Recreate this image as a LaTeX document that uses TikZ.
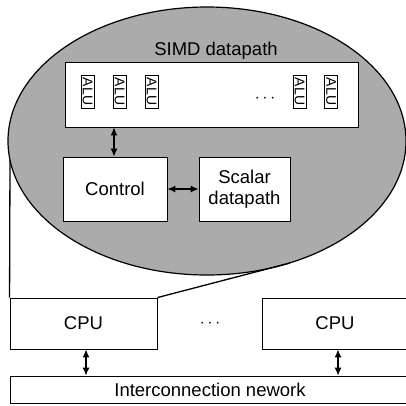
\documentclass[tikz,border=0pt]{standalone}
\usepackage{fontspec}
\setmainfont{Liberation Sans}
\usetikzlibrary{arrows.meta,shapes.geometric}
\begin{document}
\begin{tikzpicture}[x=1pt,y=-1pt,
  box/.style={draw=black,line width=0.9pt,fill=white,inner sep=0pt,align=center,
    font=\fontsize{18.5}{21}\selectfont},
  alubox/.style={draw=black,line width=0.8pt,fill=white,inner sep=0pt,
    minimum width=13pt,minimum height=33pt},
  alutext/.style={rotate=-90,font=\fontsize{14}{15}\selectfont},
  dbl/.style={{Latex[length=8pt,width=7pt]}-{Latex[length=8pt,width=7pt]},line width=1.1pt},
  callout/.style={line width=1.3pt},
  shade/.style={fill=black!33,draw=black,line width=1.2pt}]
\useasboundingbox (0,0) rectangle (406,405);
% enlarged processor
\node[shade,ellipse,inner sep=0pt,minimum width=398pt,minimum height=268pt] (proc) at (207,141) {};
\coordinate (pl) at (10,160);
\coordinate (pr) at (290,263);
% SIMD datapath
\node[font=\fontsize{18.5}{21}\selectfont] (simdlbl) at (216,51) {SIMD datapath};
\node[box,minimum width=293pt,minimum height=65pt] (simd) at (211.5,94.5) {};
\foreach \i/\x in {1/87.5,2/119.5,3/151.5,4/299.5,5/331} {
  \node[alubox] (alu\i) at (\x,91.5) {};
  \node[alutext] at (alu\i) {ALU};
}
\node[font=\fontsize{18.5}{21}\selectfont] (dotsA) at (265,99) {$\cdots$};
% control and scalar
\node[box,minimum width=104pt,minimum height=64pt] (ctrl) at (115,189) {Control};
\node[box,minimum width=91pt,minimum height=64pt] (scal) at (244.5,189) {Scalar\\datapath};
\draw[dbl] (ctrl.north -| 114,0) -- (simd.south -| 114,0);
\draw[dbl] (ctrl.east) -- (scal.west);
% CPUs
\node[box,minimum width=147pt,minimum height=51pt] (cpu1) at (83.5,323.5) {CPU};
\node[box,minimum width=148pt,minimum height=51pt] (cpu2) at (336,323.5) {\hspace*{-2pt}CPU};
\node[font=\fontsize{18.5}{21}\selectfont] (dotsB) at (210,324) {$\cdots$};
% interconnection
\node[box,minimum width=400pt,minimum height=27pt] (net) at (210,389.5) {Interconnection nework};
\draw[dbl] (cpu1.south -| 86,0) -- (net.north -| 86,0);
\draw[dbl] (cpu2.south -| 338,0) -- (net.north -| 338,0);
% callout lines
\draw[callout] (pl) -- (cpu1.north west);
\draw[callout] (pr) -- (cpu1.north east);
\end{tikzpicture}
\end{document}
